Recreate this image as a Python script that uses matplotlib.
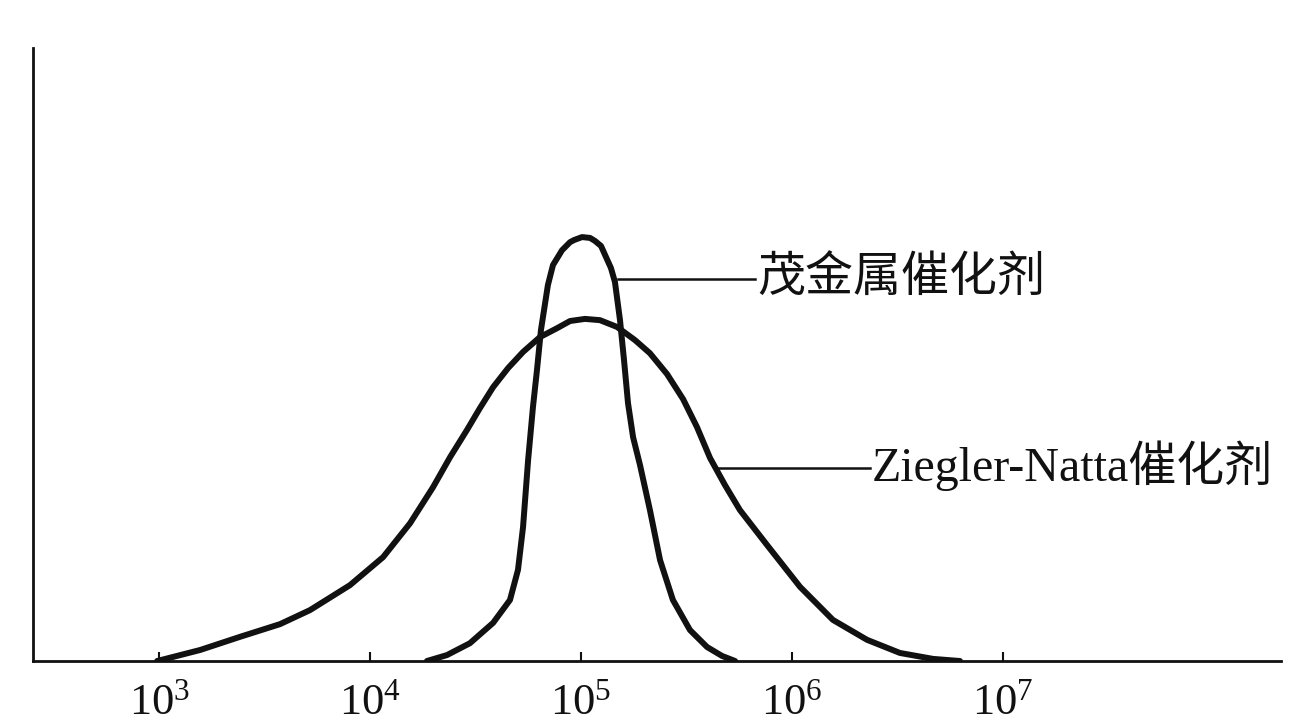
import matplotlib
matplotlib.use("Agg")
import matplotlib.pyplot as plt
import numpy as np

# log10 of molecular weight and relative height (metallocene peak = 1)
metallocene_logm = [4.269, 4.364, 4.473, 4.583, 4.663, 4.701, 4.725, 4.749, 4.772,
                    4.791, 4.810, 4.843, 4.867, 4.910, 4.948, 4.967, 5.005, 5.043,
                    5.066, 5.095, 5.123, 5.142, 5.161, 5.185, 5.204, 5.223, 5.247,
                    5.280, 5.327, 5.375, 5.436, 5.517, 5.598, 5.669, 5.731]
metallocene_h = [0.0, 0.014, 0.042, 0.090, 0.144, 0.215, 0.316, 0.474, 0.599,
                 0.686, 0.781, 0.887, 0.934, 0.969, 0.988, 0.993, 1.000, 0.998,
                 0.991, 0.979, 0.948, 0.927, 0.894, 0.804, 0.710, 0.608, 0.528,
                 0.462, 0.356, 0.238, 0.144, 0.073, 0.033, 0.012, 0.0]

zn_logm = [2.989, 3.193, 3.382, 3.572, 3.714, 3.904, 4.061, 4.189, 4.298, 4.379,
           4.459, 4.521, 4.583, 4.654, 4.725, 4.805, 4.886, 4.948, 5.019, 5.090,
           5.171, 5.256, 5.327, 5.408, 5.484, 5.550, 5.612, 5.683, 5.754, 5.882,
           6.039, 6.195, 6.357, 6.513, 6.670, 6.798]
zn_h = [0.0, 0.026, 0.057, 0.087, 0.120, 0.179, 0.245, 0.325, 0.410, 0.481,
        0.545, 0.597, 0.646, 0.691, 0.729, 0.764, 0.785, 0.802, 0.807, 0.804,
        0.788, 0.757, 0.726, 0.677, 0.618, 0.552, 0.479, 0.415, 0.356, 0.274,
        0.175, 0.097, 0.050, 0.019, 0.005, 0.0]

tick_exponents = [3, 4, 5, 6, 7]

label_metallocene = "茂金属催化剂"
label_zn = "Ziegler-Natta催化剂"

plt.rcParams['mathtext.fontset'] = 'custom'
plt.rcParams['mathtext.rm'] = 'Liberation Serif'
plt.rcParams['mathtext.it'] = 'Liberation Serif:italic'

fig = plt.figure(figsize=(13.14, 7.24), dpi=100)
ax = fig.add_axes([0.0251, 0.0870, 0.9498, 0.8467])

line_color = '#111111'
ax.plot(10 ** np.array(metallocene_logm), metallocene_h, color=line_color,
        lw=4.3, solid_joinstyle='round', solid_capstyle='round')
ax.plot(10 ** np.array(zn_logm), zn_h, color=line_color,
        lw=4.3, solid_joinstyle='round', solid_capstyle='round')

ax.set_xscale('log')
ax.set_xlim(10 ** 2.400, 10 ** 8.321)
ax.set_ylim(0, 1.446)

# leader lines and labels
ax.plot([10 ** 5.176, 10 ** 5.825], [0.901, 0.901], color=line_color, lw=1.8)
ax.text(10 ** 5.835, 0.905, label_metallocene, fontsize=34.6, va='center', ha='left',
        family=['Noto Sans CJK SC', 'DejaVu Sans'], color=line_color)

ax.plot([10 ** 5.650, 10 ** 6.371], [0.455, 0.455], color=line_color, lw=1.8)
ax.text(10 ** 6.380, 0.460, label_zn, fontsize=34.6, va='center', ha='left',
        family=['Liberation Serif', 'Noto Sans CJK SC'], color=line_color)

# axes styling
for side in ['top', 'right']:
    ax.spines[side].set_visible(False)
for side in ['left', 'bottom']:
    ax.spines[side].set_linewidth(2.0)
    ax.spines[side].set_color(line_color)

ax.set_yticks([])
ax.set_xticks([10.0 ** e for e in tick_exponents])
ax.set_xticklabels([r'$\mathrm{10}^{%d}$' % e for e in tick_exponents])
ax.xaxis.set_minor_locator(matplotlib.ticker.NullLocator())
ax.tick_params(axis='x', direction='in', length=6.5, width=1.5, color=line_color,
               labelsize=32, pad=14, labelcolor=line_color)

fig.savefig('out.png', dpi=100, facecolor='white')
